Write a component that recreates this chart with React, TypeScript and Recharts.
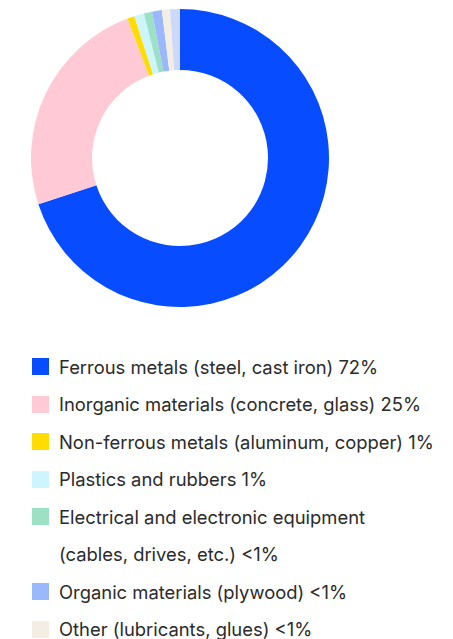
import { PieChart, Pie, Cell, Legend } from "recharts";

const categories = [
  "Ferrous metals (steel, cast iron)",
  "Inorganic materials (concrete, glass)",
  "Non-ferrous metals (aluminum, copper)",
  "Plastics and rubbers",
  "Electrical and electronic equipment",
  "Organic materials (plywood)",
  "Other (lubricants, glues)",
  "Unlisted",
];
const shares = [72, 25, 0.8, 1.1, 0.9, 1.1, 0.9, 1.1];
const shareLabels = ["72%", "25%", "1%", "1%", "<1%", "<1%", "<1%"];
const colors = ["#074cff", "#ffcad6", "#ffdd00", "#ccf5fe", "#9ce0c5", "#9bb8fd", "#f4ede4", "#cdd9fb"];
// the electrical entry wraps onto a second line in the legend
const wrapped: Record<number, [string, string]> = {
  4: ["Electrical and electronic equipment", "(cables, drives, etc.)"],
};

const data = categories.map((name, i) => ({ name, value: shares[i] }));

function MaterialLegend() {
  const rows: { color?: string; text: string }[] = [];
  shareLabels.forEach((pct, i) => {
    if (wrapped[i]) {
      rows.push({ color: colors[i], text: wrapped[i][0] });
      rows.push({ text: `${wrapped[i][1]} ${pct}` });
    } else {
      rows.push({ color: colors[i], text: `${categories[i]} ${pct}` });
    }
  });
  return (
    <div style={{ fontFamily: "Inter, sans-serif", fontSize: 18.4, color: "#2b2b2b" }}>
      {rows.map((r, i) => (
        <div key={i} style={{ display: "flex", alignItems: "center", height: 37.5, whiteSpace: "nowrap" }}>
          <span
            style={{
              display: "inline-block",
              width: 17,
              height: 17,
              background: r.color ?? "transparent",
              marginRight: 10,
              flexShrink: 0,
            }}
          />
          {r.text}
        </div>
      ))}
    </div>
  );
}

export default function App() {
  return (
    <>
      <style>{"html,body{overflow:hidden}"}</style>
      <PieChart width={437} height={631}>
        <Pie
          data={data}
          dataKey="value"
          cx={167}
          cy={145}
          innerRadius={88}
          outerRadius={149}
          startAngle={90}
          endAngle={-270}
          stroke="none"
          isAnimationActive={false}
        >
          {data.map((d, i) => (
            <Cell key={d.name} fill={colors[i]} />
          ))}
        </Pie>
        <Legend
          content={() => <MaterialLegend />}
          wrapperStyle={{ position: "absolute", left: 24, top: 340, width: 430 }}
        />
      </PieChart>
    </>
  );
}
